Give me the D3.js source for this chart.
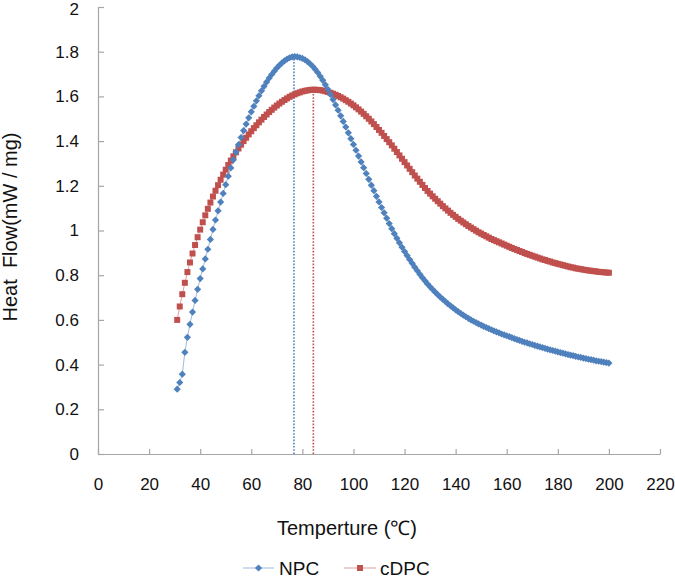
<!DOCTYPE html>
<html>
<head>
<meta charset="utf-8">
<script src="https://cdn.jsdelivr.net/npm/d3@7"></script>
<style>
  html, body { margin: 0; padding: 0; background: #fff; }
  svg { display: block; }
</style>
</head>
<body>
<script>
// ---------------- data ----------------
const temps = [31,32,33,34,35,36,37,38,39,40,41,42,43,44,45,46,47,48,49,50,
51,52,53,54,55,56,57,58,59,60,61,62,63,64,65,66,67,68,69,70,
71,72,73,74,75,76,77,78,79,80,81,82,83,84,85,86,87,88,89,90,
91,92,93,94,95,96,97,98,99,100,101,102,103,104,105,106,107,108,109,110,
111,112,113,114,115,116,117,118,119,120,121,122,123,124,125,126,127,128,129,130,
131,132,133,134,135,136,137,138,139,140,141,142,143,144,145,146,147,148,149,150,
151,152,153,154,155,156,157,158,159,160,161,162,163,164,165,166,167,168,169,170,
171,172,173,174,175,176,177,178,179,180,181,182,183,184,185,186,187,188,189,190,
191,192,193,194,195,196,197,198,199,200];

const npc = [0.29,0.32,0.357,0.455,0.522,0.58,0.635,0.687,0.737,0.785,
0.828,0.873,0.916,0.96,1.005,1.047,1.088,1.127,1.166,1.205,
1.243,1.28,1.316,1.351,1.384,1.416,1.447,1.476,1.504,1.531,
1.556,1.58,1.603,1.625,1.645,1.664,1.682,1.698,1.713,1.727,
1.739,1.75,1.759,1.767,1.773,1.777,1.778,1.777,1.774,1.77,
1.764,1.756,1.746,1.735,1.722,1.707,1.69,1.672,1.652,1.631,
1.609,1.586,1.562,1.538,1.513,1.488,1.463,1.437,1.411,1.385,
1.359,1.333,1.307,1.281,1.255,1.229,1.203,1.178,1.153,1.128,
1.103,1.079,1.055,1.031,1.008,0.986,0.965,0.945,0.925,0.906,
0.888,0.87,0.853,0.836,0.82,0.804,0.789,0.775,0.761,0.748,
0.736,0.724,0.713,0.702,0.692,0.682,0.672,0.663,0.654,0.645,
0.637,0.629,0.621,0.614,0.607,0.6,0.594,0.588,0.582,0.577,
0.571,0.566,0.561,0.556,0.551,0.546,0.542,0.537,0.533,0.529,
0.525,0.521,0.516,0.512,0.508,0.504,0.5,0.497,0.493,0.49,
0.486,0.483,0.479,0.476,0.473,0.469,0.466,0.463,0.46,0.457,
0.454,0.451,0.448,0.445,0.442,0.44,0.437,0.434,0.432,0.429,
0.427,0.424,0.422,0.42,0.417,0.415,0.413,0.411,0.409,0.407];

const cdpc = [0.6,0.66,0.715,0.766,0.814,0.857,0.897,0.935,0.97,1.004,
1.037,1.068,1.097,1.125,1.152,1.178,1.203,1.227,1.25,1.272,
1.293,1.313,1.332,1.35,1.367,1.384,1.4,1.415,1.43,1.444,
1.458,1.471,1.484,1.496,1.508,1.519,1.53,1.54,1.55,1.559,
1.568,1.576,1.584,1.591,1.598,1.604,1.609,1.614,1.618,1.622,
1.625,1.627,1.629,1.63,1.63,1.629,1.628,1.626,1.623,1.62,
1.616,1.612,1.607,1.602,1.596,1.59,1.583,1.576,1.568,1.56,
1.551,1.542,1.532,1.522,1.511,1.5,1.488,1.476,1.463,1.45,
1.437,1.423,1.409,1.395,1.381,1.366,1.351,1.336,1.321,1.306,
1.291,1.276,1.261,1.246,1.232,1.218,1.204,1.19,1.177,1.165,
1.153,1.142,1.131,1.12,1.109,1.099,1.089,1.079,1.07,1.061,
1.052,1.044,1.036,1.028,1.02,1.013,1.006,0.999,0.992,0.986,
0.98,0.974,0.968,0.962,0.957,0.952,0.947,0.942,0.937,0.932,
0.927,0.922,0.917,0.913,0.908,0.904,0.899,0.895,0.891,0.887,
0.883,0.879,0.875,0.871,0.868,0.864,0.861,0.857,0.854,0.851,
0.848,0.845,0.842,0.839,0.836,0.834,0.831,0.829,0.827,0.825,
0.823,0.821,0.82,0.818,0.817,0.815,0.814,0.813,0.812,0.811];

const seriesNames = ["NPC", "cDPC"];
const peakTemps = [76.7, 84.3];
const peakValues = [1.778, 1.63];
const xTicks = [0,20,40,60,80,100,120,140,160,180,200,220];
const yTicks = [0,0.2,0.4,0.6,0.8,1,1.2,1.4,1.6,1.8,2];
const xTitle = "Temperture (\u2103)";
const yTitle = "Heat  Flow(mW / mg)";

// ---------------- chart ----------------
const W = 675, H = 577;
const blue = "#4F81BD", red = "#C0504D";
const axisColor = "#A6A6A6";
const font = "'Liberation Sans', Arial, sans-serif";

const svg = d3.select("body").append("svg").attr("width", W).attr("height", H);

const x = d3.scaleLinear().domain([0, 220]).range([98, 660]);
const y = d3.scaleLinear().domain([0, 2]).range([454, 7]);

// axes
const xAxis = d3.axisBottom(x).tickValues(xTicks).tickSizeInner(-5).tickSizeOuter(0).tickPadding(24)
  .tickFormat(d => String(d));
const gx = svg.append("g").attr("transform", "translate(0,454)").call(xAxis);
const yAxis = d3.axisLeft(y).tickValues(yTicks).tickSizeInner(-6).tickSizeOuter(0).tickPadding(19)
  .tickFormat(d => String(+d.toFixed(2)));
const gy = svg.append("g").attr("transform", "translate(98,0)").call(yAxis);

[gx, gy].forEach(g => {
  g.select(".domain").attr("stroke", axisColor).attr("stroke-width", 1.2);
  g.selectAll(".tick line").attr("stroke", axisColor).attr("stroke-width", 1.2);
  g.selectAll(".tick text").attr("fill", "#111")
    .style("font-family", font).style("font-size", "17px");
});
// keep the top label fully inside the picture
gy.selectAll(".tick").filter(d => d === 2).select("text").attr("dy", "0.42em");

// titles
svg.append("text").attr("x", 347).attr("y", 535).attr("text-anchor", "middle")
  .style("font-family", font).style("font-size", "20px")
  .attr("fill", "#111").text(xTitle);
svg.append("text").attr("transform", "translate(17,227) rotate(-90)").attr("text-anchor", "middle")
  .style("font-family", font).style("font-size", "20px")
  .attr("fill", "#111").style("white-space", "pre").attr("xml:space", "preserve").text(yTitle);

// dotted peak lines
const colors = [blue, red];
peakTemps.forEach((t, i) => {
  svg.append("line")
    .attr("x1", x(t)).attr("x2", x(t)).attr("y1", y(0)).attr("y2", y(peakValues[i]))
    .attr("stroke", colors[i]).attr("stroke-width", 1.6).attr("stroke-dasharray", "1.6,1.6");
});

const dataN = temps.map((t, i) => ({t, v: npc[i]}));
const dataC = temps.map((t, i) => ({t, v: cdpc[i]}));
const line = d3.line().x(d => x(d.t)).y(d => y(d.v));

const diamond = (r) => `M0,${-r}L${r},0L0,${r}L${-r},0Z`;
const square = (s) => `M${-s/2},${-s/2}h${s}v${s}h${-s}Z`;

// red series
svg.append("path").datum(dataC).attr("d", line).attr("fill", "none")
  .attr("stroke", red).attr("stroke-opacity", 0.55).attr("stroke-width", 1);
svg.append("g").selectAll("path").data(dataC).join("path")
  .attr("transform", d => `translate(${x(d.t)},${y(d.v)})`)
  .attr("d", square(6)).attr("fill", red);

// blue series
svg.append("path").datum(dataN).attr("d", line).attr("fill", "none")
  .attr("stroke", blue).attr("stroke-opacity", 0.55).attr("stroke-width", 1);
svg.append("g").selectAll("path").data(dataN).join("path")
  .attr("transform", d => `translate(${x(d.t)},${y(d.v)})`)
  .attr("d", diamond(3.6)).attr("fill", blue);

// legend
const ly = 568;
const legend = [
  {name: seriesNames[0], color: blue, x1: 243, x2: 274, tx: 279, shape: diamond(3.6)},
  {name: seriesNames[1], color: red, x1: 344, x2: 376, tx: 380, shape: square(6)}
];
legend.forEach(l => {
  svg.append("line").attr("x1", l.x1).attr("x2", l.x2).attr("y1", ly).attr("y2", ly)
    .attr("stroke", l.color).attr("stroke-opacity", 0.55).attr("stroke-width", 1);
  svg.append("path").attr("transform", `translate(${(l.x1 + l.x2) / 2},${ly})`).attr("d", l.shape).attr("fill", l.color);
  svg.append("text").attr("x", l.tx).attr("y", ly + 6.5).attr("fill", "#111")
    .style("font-family", font).style("font-size", "19px").text(l.name);
});
</script>
</body>
</html>
